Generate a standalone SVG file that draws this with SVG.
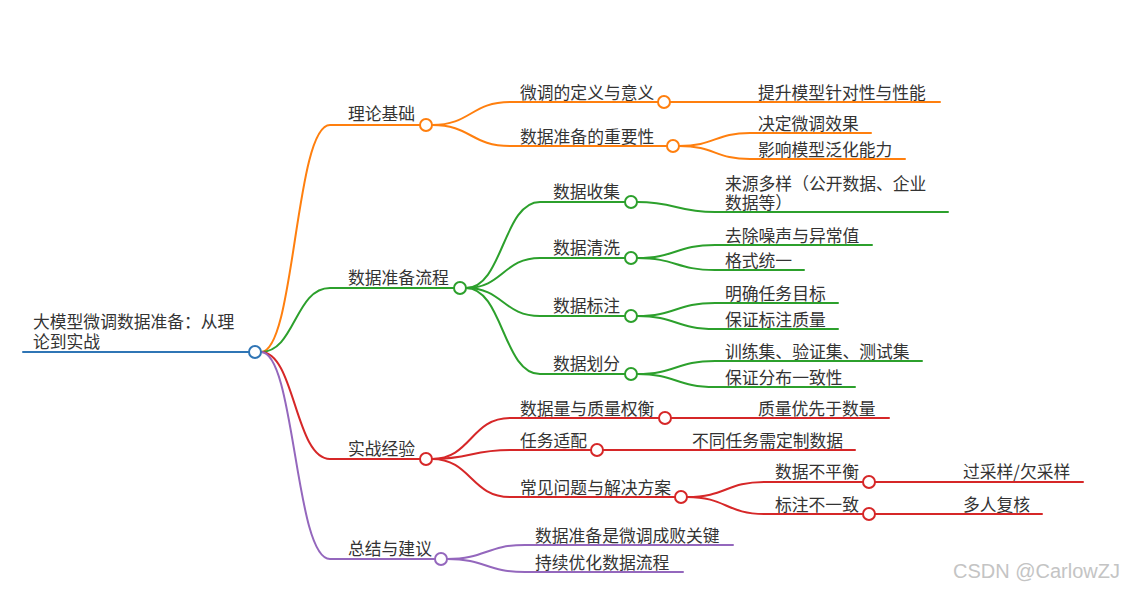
<svg xmlns="http://www.w3.org/2000/svg" width="1125" height="590" viewBox="0 0 1125 590">
<style>
.t{font-family:"Noto Sans CJK SC","Microsoft YaHei",sans-serif;font-size:16.8px;fill:#333333}
.c{fill:none;stroke-width:2;stroke-linecap:round}
.n{fill:#ffffff;stroke-width:2}
.b{stroke:#2f75b5}.o{stroke:#ff7f0e}.g{stroke:#2ca02c}.r{stroke:#d62728}.p{stroke:#9467bd}
.wm{font-family:"Liberation Sans",Arial,sans-serif;font-size:20px;fill:#c4c4c4}
</style>
<rect width="1125" height="590" fill="#ffffff"/>
<g id="connectors">
  <path class="c b" d="M23 352 H249"/>
  <path class="c o" d="M261 352 C295 352,295 125,330 125 H420"/>
  <path class="c g" d="M261 352 C295 352,295 288,330 288 H454"/>
  <path class="c r" d="M261 352 C295 352,295 459,330 459 H420"/>
  <path class="c p" d="M261 352 C295 352,295 559,330 559 H435"/>
  <path class="c o" d="M432 125 C471 125,471 102,510 102 H658"/>
  <path class="c o" d="M432 125 C471 125,471 146,510 146 H667"/>
  <path class="c o" d="M670 102 H940"/>
  <path class="c o" d="M679 146 C715 146,715 133,750 133 H871"/>
  <path class="c o" d="M679 146 C715 146,715 159,750 159 H905"/>
  <path class="c g" d="M466 288 C503 288,503 202,540 202 H625"/>
  <path class="c g" d="M466 288 C503 288,503 258,540 258 H625"/>
  <path class="c g" d="M466 288 C503 288,503 316,540 316 H625"/>
  <path class="c g" d="M466 288 C503 288,503 374,540 374 H625"/>
  <path class="c g" d="M637 202 C676 202,676 212,715 212 H948"/>
  <path class="c g" d="M637 258 C676 258,676 245,715 245 H872"/>
  <path class="c g" d="M637 258 C676 258,676 270,715 270 H804"/>
  <path class="c g" d="M637 316 C676 316,676 303,715 303 H838"/>
  <path class="c g" d="M637 316 C676 316,676 329,715 329 H838"/>
  <path class="c g" d="M637 374 C676 374,676 361,715 361 H922"/>
  <path class="c g" d="M637 374 C676 374,676 387,715 387 H855"/>
  <path class="c r" d="M432 459 C471 459,471 418,510 418 H659"/>
  <path class="c r" d="M432 459 C471 459,471 450,510 450 H591"/>
  <path class="c r" d="M432 459 C471 459,471 497,510 497 H675"/>
  <path class="c r" d="M671 418 H889"/>
  <path class="c r" d="M603 450 H855"/>
  <path class="c r" d="M687 497 C726 497,726 482,765 482 H863"/>
  <path class="c r" d="M687 497 C726 497,726 514,765 514 H863"/>
  <path class="c r" d="M875 482 H1083"/>
  <path class="c r" d="M875 514 H1042"/>
  <path class="c p" d="M447 559 C486 559,486 545,525 545 H733"/>
  <path class="c p" d="M447 559 C486 559,486 572,525 572 H683"/>
</g>
<g id="root"><text class="t" x="33" y="328">大模型微调数据准备：从理<tspan x="33" y="348">论到实战</tspan></text><circle class="n b" cx="255" cy="352" r="6"/></g>
<g id="n-theory"><text class="t" x="348" y="120">理论基础</text><circle class="n o" cx="426" cy="125" r="6"/></g>
<g id="n-def"><text class="t" x="520" y="99">微调的定义与意义</text><circle class="n o" cx="664" cy="102" r="6"/></g>
<g id="n-def1"><text class="t" x="758" y="99">提升模型针对性与性能</text></g>
<g id="n-imp"><text class="t" x="520" y="143">数据准备的重要性</text><circle class="n o" cx="673" cy="146" r="6"/></g>
<g id="n-imp1"><text class="t" x="758" y="130">决定微调效果</text></g>
<g id="n-imp2"><text class="t" x="758" y="156">影响模型泛化能力</text></g>
<g id="n-prep"><text class="t" x="348" y="284">数据准备流程</text><circle class="n g" cx="460" cy="288" r="6"/></g>
<g id="n-collect"><text class="t" x="553" y="198">数据收集</text><circle class="n g" cx="631" cy="202" r="6"/></g>
<g id="n-collect1"><text class="t" x="725" y="190">来源多样（公开数据、企业<tspan x="725" y="209">数据等）</tspan></text></g>
<g id="n-clean"><text class="t" x="553" y="254">数据清洗</text><circle class="n g" cx="631" cy="258" r="6"/></g>
<g id="n-clean1"><text class="t" x="725" y="242">去除噪声与异常值</text></g>
<g id="n-clean2"><text class="t" x="725" y="267">格式统一</text></g>
<g id="n-label"><text class="t" x="553" y="312">数据标注</text><circle class="n g" cx="631" cy="316" r="6"/></g>
<g id="n-label1"><text class="t" x="725" y="300">明确任务目标</text></g>
<g id="n-label2"><text class="t" x="725" y="326">保证标注质量</text></g>
<g id="n-split"><text class="t" x="553" y="370">数据划分</text><circle class="n g" cx="631" cy="374" r="6"/></g>
<g id="n-split1"><text class="t" x="725" y="358">训练集、验证集、测试集</text></g>
<g id="n-split2"><text class="t" x="725" y="384">保证分布一致性</text></g>
<g id="n-exp"><text class="t" x="348" y="455">实战经验</text><circle class="n r" cx="426" cy="459" r="6"/></g>
<g id="n-qty"><text class="t" x="520" y="415">数据量与质量权衡</text><circle class="n r" cx="665" cy="418" r="6"/></g>
<g id="n-qty1"><text class="t" x="758" y="415">质量优先于数量</text></g>
<g id="n-task"><text class="t" x="520" y="447">任务适配</text><circle class="n r" cx="597" cy="450" r="6"/></g>
<g id="n-task1"><text class="t" x="692" y="447">不同任务需定制数据</text></g>
<g id="n-prob"><text class="t" x="520" y="494">常见问题与解决方案</text><circle class="n r" cx="681" cy="497" r="6"/></g>
<g id="n-imb"><text class="t" x="775" y="478">数据不平衡</text><circle class="n r" cx="869" cy="482" r="6"/></g>
<g id="n-imb1"><text class="t" x="963" y="478">过采样/欠采样</text></g>
<g id="n-inc"><text class="t" x="775" y="511">标注不一致</text><circle class="n r" cx="869" cy="514" r="6"/></g>
<g id="n-inc1"><text class="t" x="963" y="511">多人复核</text></g>
<g id="n-sum"><text class="t" x="348" y="555">总结与建议</text><circle class="n p" cx="441" cy="559" r="6"/></g>
<g id="n-sum1"><text class="t" x="535" y="542">数据准备是微调成败关键</text></g>
<g id="n-sum2"><text class="t" x="535" y="569">持续优化数据流程</text></g>
<text class="wm" x="953" y="578">CSDN @CarlowZJ</text>
</svg>
